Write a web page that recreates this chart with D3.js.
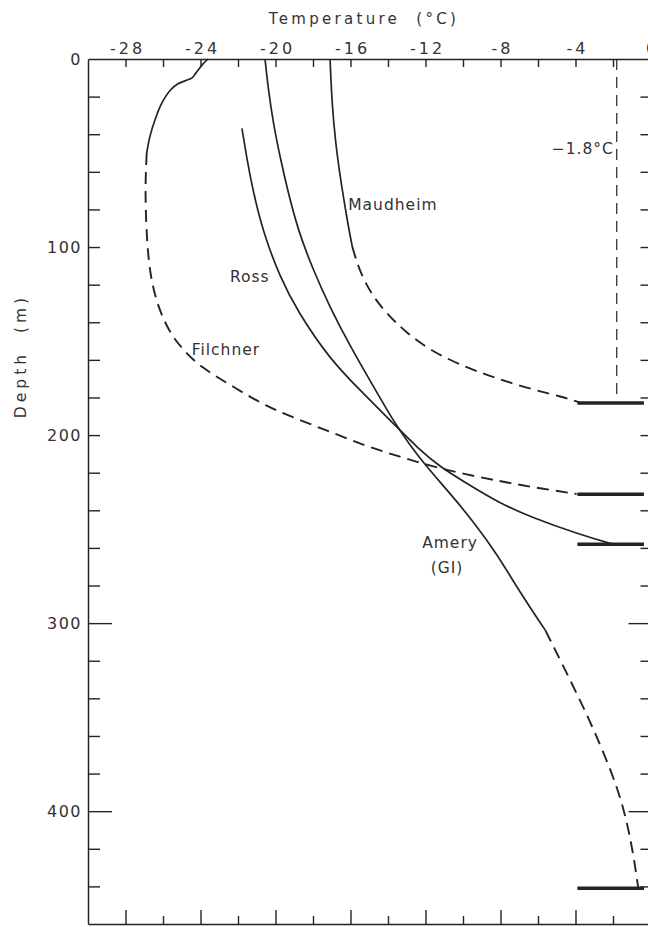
<!DOCTYPE html>
<html>
<head>
<meta charset="utf-8">
<script src="https://cdn.jsdelivr.net/npm/d3@7"></script>
<style>
  html, body { margin: 0; padding: 0; background: #fff; }
  svg { display: block; }
  text { white-space: pre; }
</style>
</head>
<body>
<svg id="chart" width="648" height="927"></svg>
<script>
// ---- axis ticks -------------------------------------------------------
const tempTicks = d3.range(-28, 1, 2);            // every 2 °C
const tempLabels = [-28, -24, -20, -16, -12, -8, -4, 0];
const depthTicks = d3.range(0, 460, 20);          // every 20 m
const depthLabels = [0, 100, 200, 300, 400];
const depthLongTicks = [300, 400];

// ---- temperature profiles: [temperature °C, depth m] ------------------
// measured part (solid) and extrapolated part (dashed)
const maudheimMeasured = [
  [-17.09, 0], [-17.0, 21.8], [-16.8, 45], [-16.47, 68], [-16.1, 90], [-15.9, 100]
];
const maudheimExtrap = [
  [-15.9, 100], [-15.55, 112], [-14.9, 125], [-14.1, 135], [-13.1, 145],
  [-11.6, 156], [-9.6, 165], [-8.0, 170.5], [-6.3, 175.8],
  [-4.7, 179.6], [-3.8, 182.6]
];

const rossMeasured = [
  [-21.79, 36.9], [-21.54, 52], [-21.25, 68], [-20.65, 92.7], [-19.76, 115.8],
  [-18.87, 133.5], [-17.09, 160], [-15.32, 177.8], [-14.07, 190.3], [-13.54, 195.6],
  [-12.4, 207], [-11.23, 216.9], [-9.8, 225.7], [-8.03, 236.3], [-6.43, 243.4],
  [-3.76, 253], [-2.0, 258]
];

const ameryMeasured = [
  [-20.56, 0], [-20.38, 16.5], [-20.12, 34], [-19.76, 52], [-19.35, 70],
  [-18.8, 91], [-18.0, 112], [-17.1, 132], [-16.0, 153], [-14.9, 172],
  [-13.75, 192], [-12.85, 205], [-11.94, 216.9], [-10.69, 231], [-9.45, 246],
  [-8.2, 263], [-7.0, 283], [-5.6, 304]
];
const ameryExtrap = [
  [-5.6, 304], [-3.94, 337], [-2.87, 360], [-1.63, 390], [-1.0, 417], [-0.65, 441]
];

const filchnerMeasured = [
  [-23.6, 0], [-23.9, 3], [-24.25, 7.5], [-24.45, 10], [-24.8, 11.5], [-25.2, 13.2],
  [-25.6, 16.5], [-26.07, 23.6], [-26.43, 32.4], [-26.7, 41.3], [-26.87, 50]
];
const filchnerExtrap = [
  [-26.87, 50], [-26.96, 69.7], [-26.87, 96], [-26.66, 117.6], [-26.16, 135],
  [-25.5, 147.7], [-24.9, 154.8], [-24.03, 163.7], [-22.25, 174.3], [-20.47, 185],
  [-18.69, 192], [-16.9, 199], [-15.14, 206], [-13.36, 211.5], [-11.58, 216.9],
  [-9.8, 221], [-8.03, 224.5], [-6.43, 227.5], [-3.94, 231.3]
];

// base of each ice shelf (m) and the temperature span of its marker bar (°C)
const shelfBase = [183, 231.5, 258, 441];
const baseBarSpan = [-3.9, -0.35];

// sea-water freezing point and the depth its guide line runs down to
const freezingPoint = -1.8;
const freezingLineDepth = 180;

// profile names, anchored in data coordinates [°C, m]
const profileLabels = [
  { text: 'Maudheim', at: [-16.12, 80.3], anchor: 'start' },
  { text: 'Ross',     at: [-22.43, 118.6], anchor: 'start' },
  { text: 'Filchner', at: [-24.47, 157.4], anchor: 'start' },
  { text: 'Amery',    at: [-10.69, 260],   anchor: 'middle' },
  { text: '(GI)',     at: [-10.85, 273.4], anchor: 'middle' },
  { text: '\u22121.8°C', at: [-1.95, 50.5], anchor: 'end' }
];

// ---- drawing ----------------------------------------------------------
const ink = '#232323';
const textInk = '#333';
const font = '"DejaVu Sans", sans-serif';

const svg = d3.select('#chart');
const x = d3.scaleLinear().domain([-30, 0]).range([88, 650.5]);
const y = d3.scaleLinear().domain([0, 460]).range([59, 924]);

function styleAxis(g) {
  g.attr('font-family', null).attr('font-size', null);
  g.select('.domain').attr('stroke', ink).attr('stroke-width', 1.5);
  g.selectAll('.tick line').attr('stroke', ink).attr('stroke-width', 1.4);
  g.selectAll('.tick text')
    .attr('fill', textInk)
    .attr('font-family', font)
    .attr('font-size', 16)
    .attr('letter-spacing', 1.5);
}

const fmtTemp = d => tempLabels.includes(d) ? (d < 0 ? '-' + Math.abs(d) : String(d)) : '';
const fmtDepth = d => depthLabels.includes(d) ? String(d) : '';

// top temperature axis, ticks pointing into the plot
svg.append('g')
  .attr('transform', `translate(0,${y(0)})`)
  .call(d3.axisTop(x).tickValues(tempTicks).tickFormat(fmtTemp)
    .tickSizeInner(-8).tickSizeOuter(0).tickPadding(5))
  .call(styleAxis)
  .call(g => g.selectAll('.tick text').attr('letter-spacing', 3).attr('dx', 1.5));

// bottom frame with alternating tick lengths
svg.append('g')
  .attr('transform', `translate(0,${y(460)})`)
  .call(d3.axisBottom(x).tickValues(tempTicks).tickFormat('')
    .tickSizeInner(-8).tickSizeOuter(0))
  .call(styleAxis)
  .call(g => g.selectAll('.tick line').attr('y2', d => tempLabels.includes(d) ? -14 : -8));

// left depth axis
svg.append('g')
  .attr('transform', `translate(${x(-30)},0)`)
  .call(d3.axisLeft(y).tickValues(depthTicks).tickFormat(fmtDepth)
    .tickSizeInner(-12).tickSizeOuter(0).tickPadding(6))
  .call(styleAxis)
  .call(g => g.selectAll('.tick line').attr('x2', d => depthLongTicks.includes(d) ? 24 : 12))
  .call(g => g.selectAll('.tick').filter(d => d === 0).select('line').remove());

// right frame
svg.append('g')
  .attr('transform', `translate(${x(0)},0)`)
  .call(d3.axisRight(y).tickValues(depthTicks.filter(d => d > 0)).tickFormat('')
    .tickSizeInner(-10).tickSizeOuter(0))
  .call(styleAxis)
  .call(g => g.selectAll('.tick line').attr('x2', d => depthLongTicks.includes(d) ? -22 : -10));

// axis titles
svg.append('text')
  .attr('x', 364).attr('y', 24)
  .attr('text-anchor', 'middle')
  .attr('font-family', font).attr('font-size', 15)
  .attr('letter-spacing', 3.3)
  .attr('fill', textInk)
  .text('Temperature  (°C)');

svg.append('text')
  .attr('transform', 'translate(26,356) rotate(-90)')
  .attr('text-anchor', 'middle')
  .attr('font-family', font).attr('font-size', 15.5)
  .attr('letter-spacing', 4)
  .attr('fill', textInk)
  .text('Depth  (m)');

// freezing-point guide
svg.append('line')
  .attr('x1', x(freezingPoint)).attr('x2', x(freezingPoint))
  .attr('y1', y(0)).attr('y2', y(freezingLineDepth))
  .attr('stroke', ink).attr('stroke-width', 1.2)
  .attr('stroke-dasharray', '11,7');

// profiles (B-spline through the read-off points keeps the pen strokes smooth)
const smooth = d3.line()
  .x(d => x(d[0]))
  .y(d => y(d[1]))
  .curve(d3.curveBasis);
// the Filchner surface layer keeps its small kink
const sharp = d3.line()
  .x(d => x(d[0]))
  .y(d => y(d[1]))
  .curve(d3.curveCatmullRom.alpha(0.5));

const solidSeries = [
  { pts: maudheimMeasured, gen: smooth },
  { pts: rossMeasured, gen: smooth },
  { pts: ameryMeasured, gen: smooth },
  { pts: filchnerMeasured, gen: sharp }
];
const dashedSeries = [maudheimExtrap, ameryExtrap, filchnerExtrap];

svg.append('g').selectAll('path')
  .data(solidSeries)
  .join('path')
  .attr('d', d => d.gen(d.pts))
  .attr('fill', 'none')
  .attr('stroke', ink)
  .attr('stroke-width', 1.7);

svg.append('g').selectAll('path')
  .data(dashedSeries)
  .join('path')
  .attr('d', smooth)
  .attr('fill', 'none')
  .attr('stroke', ink)
  .attr('stroke-width', 1.9)
  .attr('stroke-dasharray', '12,7');

// ice-shelf base markers
svg.append('g').selectAll('line')
  .data(shelfBase)
  .join('line')
  .attr('x1', x(baseBarSpan[0])).attr('x2', x(baseBarSpan[1]))
  .attr('y1', d => y(d)).attr('y2', d => y(d))
  .attr('stroke', ink)
  .attr('stroke-width', 3.5);

// labels
svg.append('g').selectAll('text')
  .data(profileLabels)
  .join('text')
  .attr('x', d => x(d.at[0]))
  .attr('y', d => y(d.at[1]))
  .attr('text-anchor', d => d.anchor)
  .attr('font-family', font)
  .attr('font-size', 15.5)
  .attr('letter-spacing', 1)
  .attr('fill', textInk)
  .text(d => d.text);
</script>
</body>
</html>
